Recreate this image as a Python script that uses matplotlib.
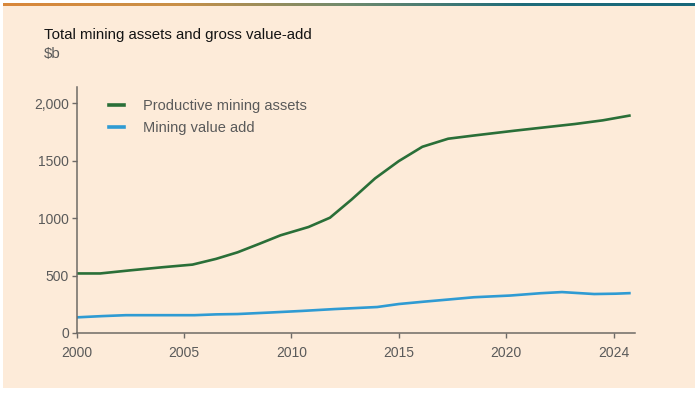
import matplotlib
matplotlib.use("Agg")
from matplotlib import pyplot as plt
from matplotlib.lines import Line2D
import numpy as np

plt.rcParams["font.family"] = ["Liberation Sans", "DejaVu Sans"]

# values ($b)
asset_years = [2000, 2001.1, 2002.5, 2004, 2005.4, 2006.5, 2007.5, 2008.5, 2009.5,
               2010.8, 2011.8, 2012.8, 2013.9, 2015, 2016.1, 2017.3, 2018.5,
               2020.4, 2021.6, 2023.2, 2024.5, 2025.8]
asset_vals = [518, 518, 545, 572, 595, 645, 702, 775, 850,
              922, 1003, 1160, 1345, 1495, 1620, 1690, 1718,
              1760, 1785, 1818, 1850, 1893]

gva_years = [2000, 2001.2, 2002.3, 2004, 2005.5, 2006.5, 2007.5, 2009, 2010.5, 2012,
             2014, 2015, 2016.2, 2017.3, 2018.5, 2020.2, 2021.6, 2022.6,
             2023.3, 2024.1, 2025.1, 2025.8]
gva_vals = [136, 147, 155, 155, 155, 162, 165, 178, 192, 208,
            226, 252, 273, 291, 311, 326, 346, 356,
            348, 339, 342, 347]

labels = ["Productive mining assets", "Mining value add"]
xtick_pos = [2000, 2005, 2010, 2015, 2020, 2025]
xtick_labels = ["2000", "2005", "2010", "2015", "2020", "2024"]
ytick_pos = [0, 500, 1000, 1500, 2000]
ytick_labels = ["0", "500", "1000", "1500", "2,000"]

green = "#2a6f38"
blue = "#2f9bd3"
peach = "#fdebd9"
grey = "#5a5a5a"
axis_grey = "#6e6a66"

fig = plt.figure(figsize=(7, 3.93), dpi=100)
fig.patch.set_facecolor("white")

# peach panel behind everything
bg = fig.add_axes([3 / 700, 5 / 393, 692 / 700, 383 / 393])
bg.set_facecolor(peach)
bg.set_xticks([])
bg.set_yticks([])
for s in bg.spines.values():
    s.set_visible(False)

# orange -> teal rule along the top
rule = fig.add_axes([3 / 700, 387 / 393, 692 / 700, 3.5 / 393])
grad = np.linspace(0, 1, 256)[None, :]
cmap = matplotlib.colors.LinearSegmentedColormap.from_list(
    "rule", ["#d9873a", "#c99048", "#6e8a6e", "#1f6c7a", "#17677a"])
rule.imshow(grad, aspect="auto", cmap=cmap)
rule.axis("off")

ax = fig.add_axes([76.5 / 700, 60 / 393, (635 - 76.5) / 700, (333 - 87) / 393])
ax.set_facecolor("none")

ax.plot(asset_years, asset_vals, color=green, lw=1.9, solid_capstyle="butt")
ax.plot(gva_years, gva_vals, color=blue, lw=1.9, solid_capstyle="butt")

ax.set_xlim(2000, 2026)
ax.set_ylim(0, 2140)
ax.set_xticks(xtick_pos)
ax.set_xticklabels(xtick_labels)
ax.set_yticks(ytick_pos)
ax.set_yticklabels(ytick_labels)

for side in ["top", "right"]:
    ax.spines[side].set_visible(False)
for side in ["left", "bottom"]:
    ax.spines[side].set_color(axis_grey)
    ax.spines[side].set_linewidth(1.1)
ax.tick_params(axis="both", colors=axis_grey, labelcolor=grey, labelsize=10,
               length=3.5, width=1)
ax.tick_params(axis="x", pad=6)
ax.tick_params(axis="y", pad=2)

handles = [Line2D([], [], color=green, lw=2.6),
           Line2D([], [], color=blue, lw=2.6)]
leg = ax.legend(handles, labels, loc="upper left", bbox_to_anchor=(0.035, 1.005),
                frameon=False, fontsize=10.5, handlelength=1.0, handletextpad=1.3,
                labelspacing=0.55, labelcolor=grey)

fig.text(44 / 700, 1 - 35 / 393, "Total mining assets and gross value-add",
         fontsize=10.8, color="#141414", va="center", ha="left")
fig.text(44 / 700, 1 - 54 / 393, r"\$b", fontsize=10.8, color=grey,
         va="center", ha="left")

fig.savefig("out.png", dpi=100, facecolor=fig.get_facecolor())
